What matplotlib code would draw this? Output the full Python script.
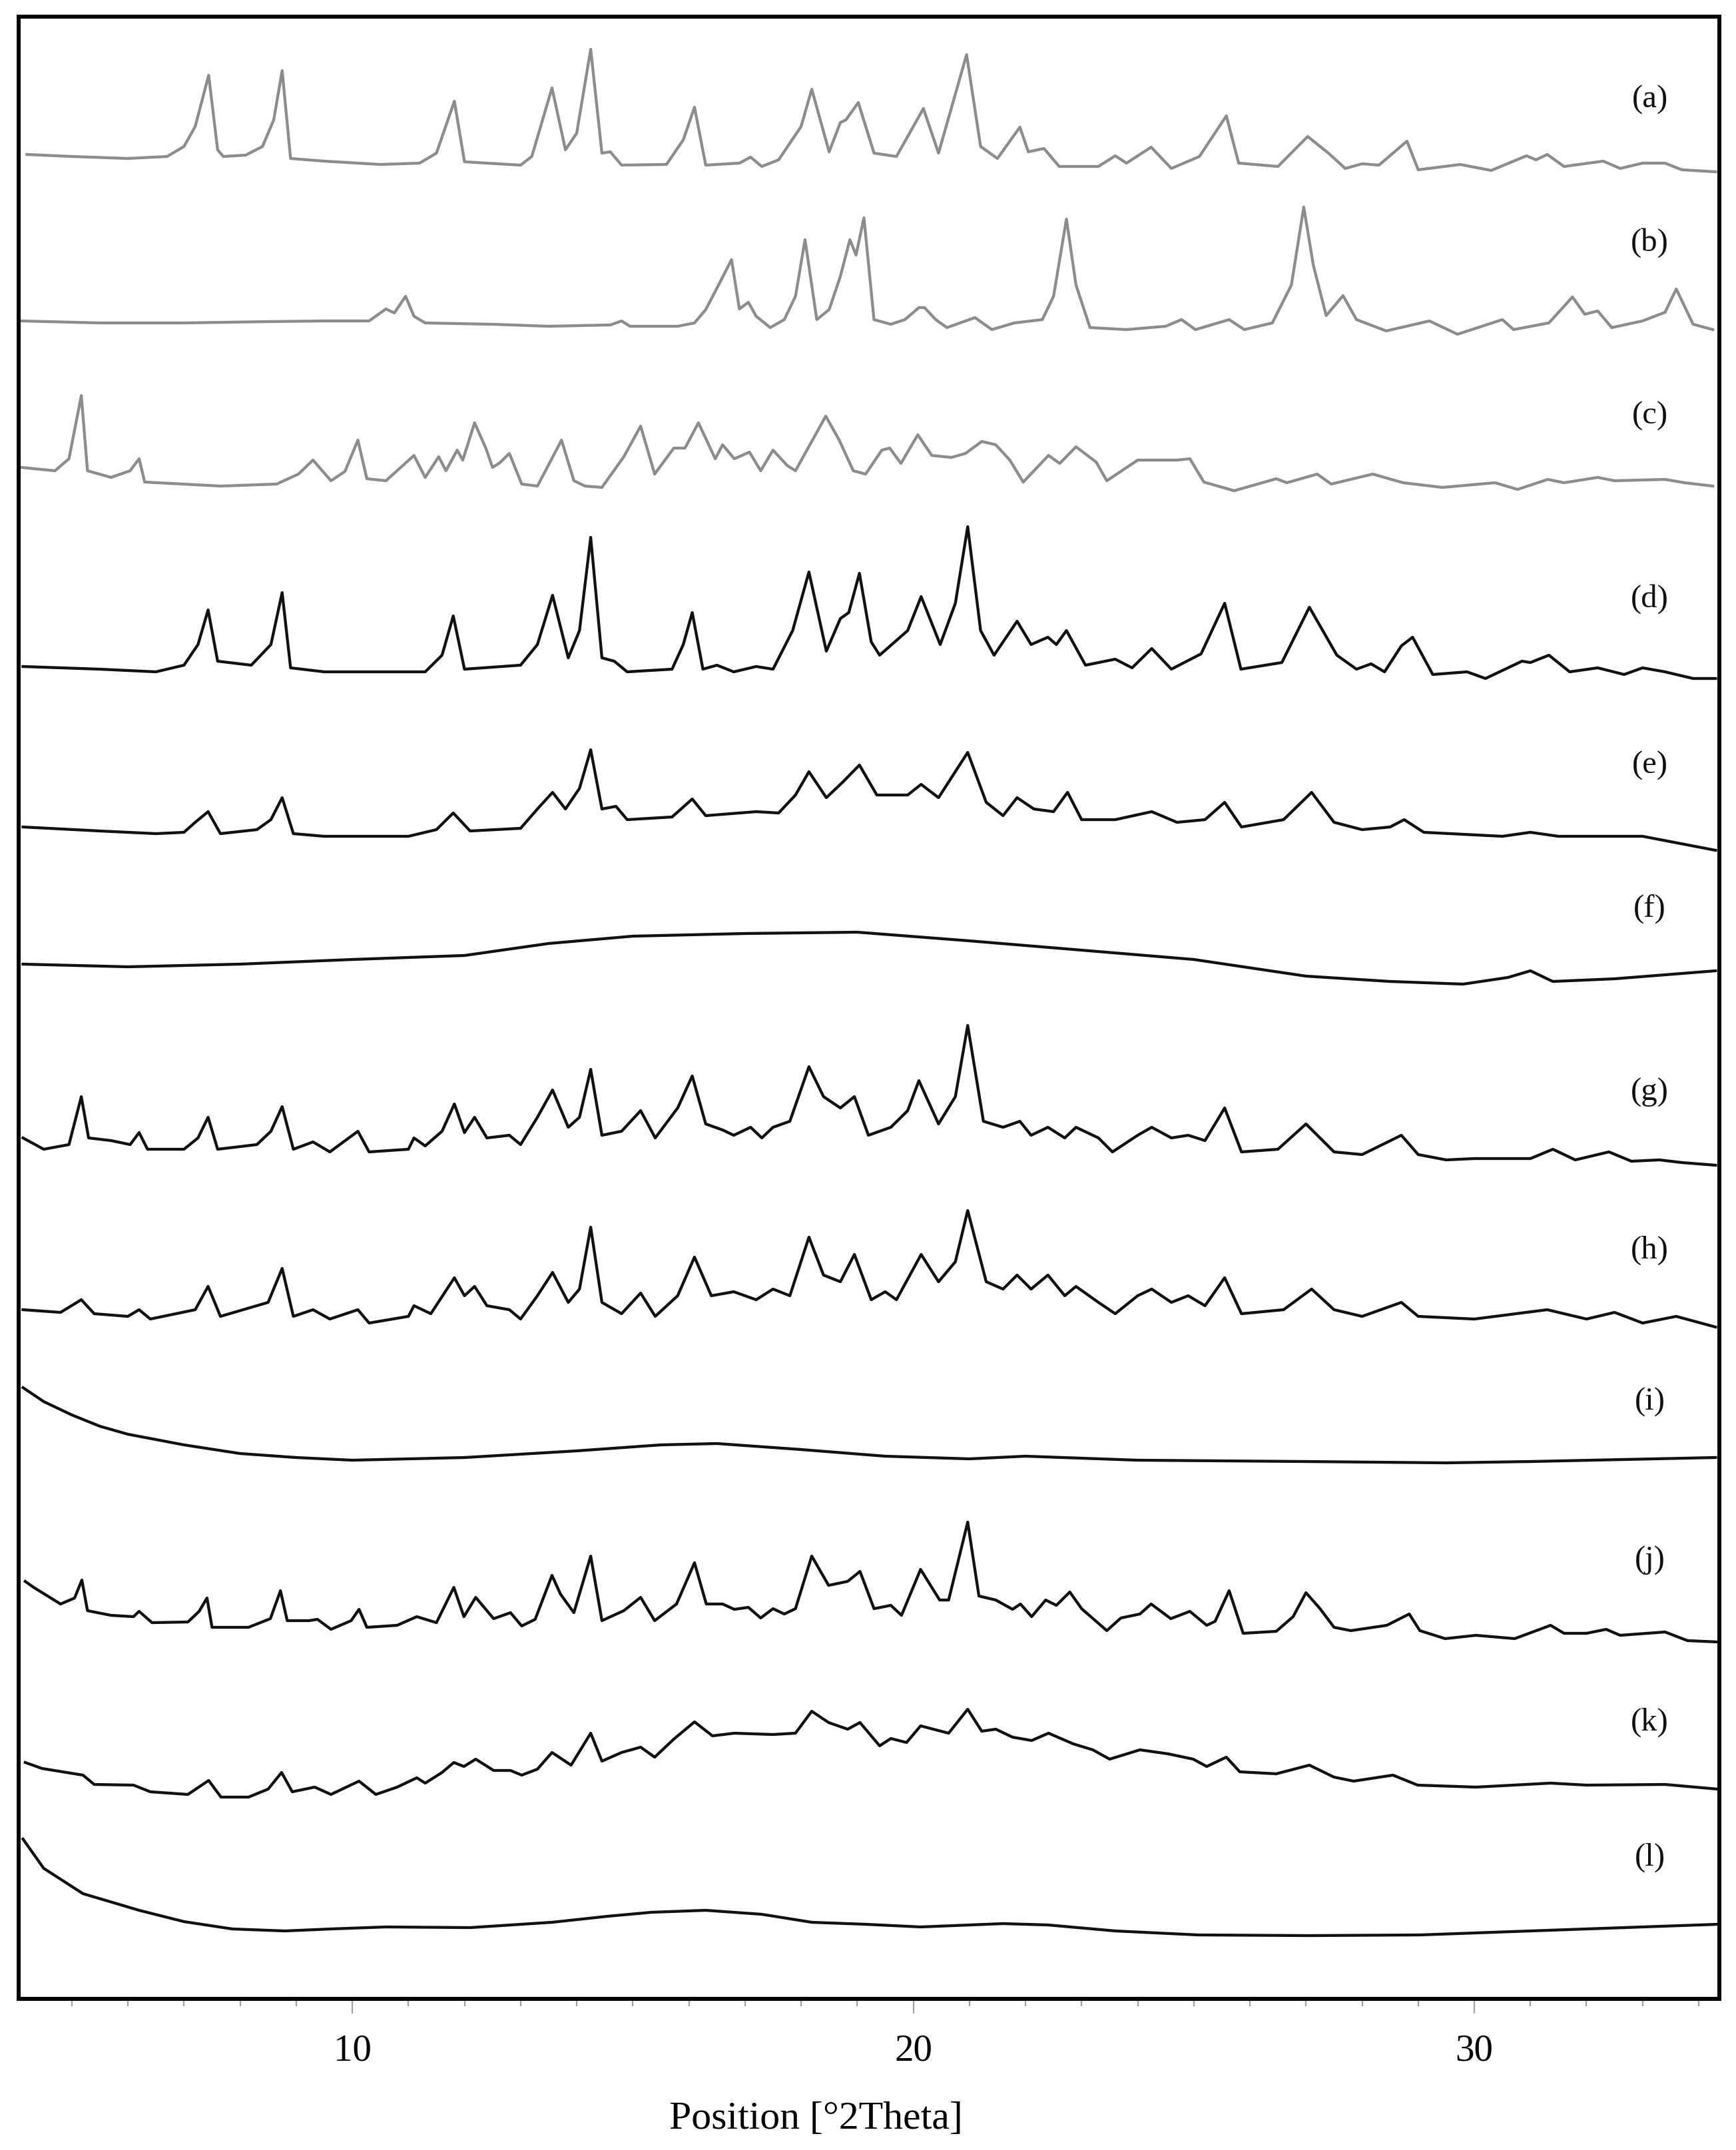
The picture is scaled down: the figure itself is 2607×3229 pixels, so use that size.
import matplotlib
matplotlib.use('Agg')
import matplotlib.pyplot as plt
from matplotlib.ticker import MultipleLocator

plt.rcParams['font.family'] = ['Liberation Serif', 'DejaVu Serif']

# digitised patterns: (2theta, counts above own baseline)
pat_a = [(4.2,18),(5.0,15),(6.0,12),(6.7,15),(7.0,30),(7.2,60),(7.44,137),(7.6,25),(7.7,15),(8.1,17),
         (8.4,30),(8.6,70),(8.75,144),(8.9,12),(9.5,8),(10.5,3),(11.2,5),(11.5,20),(11.82,98),(12.0,7),
         (13.0,2),(13.2,15),(13.56,118),(13.8,25),(14.0,50),(14.25,176),(14.45,20),(14.6,22),(14.8,2),(15.6,3),
         (15.9,40),(16.1,89),(16.3,2),(16.9,5),(17.1,14),(17.3,0),(17.6,10),(18.0,60),(18.19,116),(18.5,22),
         (18.7,66),(18.8,70),(19.02,96),(19.3,20),(19.7,15),(20.18,87),(20.45,20),(20.95,168),(21.2,30),(21.5,12),
         (21.9,59),(22.05,22),(22.33,27),(22.6,0),(23.3,0),(23.6,16),(23.8,5),(24.24,29),(24.6,-3),(25.1,15),
         (25.58,76),(25.8,5),(26.5,0),(27.03,45),(27.4,20),(27.7,-3),(28.0,4),(28.3,2),(28.8,38),(29.0,-5),
         (29.75,3),(30.3,-6),(30.93,16),(31.1,10),(31.3,18),(31.6,0),(32.3,8),(32.6,-3),(33.0,5),(33.4,5),
         (33.7,-5),(34.3,-8)]

pat_b = [(4.1,3),(5.5,0),(7.0,0),(8.5,2),(9.5,3),(10.3,3),(10.6,21),(10.75,15),(10.95,40),(11.1,10),
         (11.3,0),(12.5,-2),(13.5,-5),(14.6,-3),(14.8,3),(14.95,-5),(15.8,-5),(16.1,0),(16.3,20),(16.56,62),
         (16.76,95),(16.9,21),(17.06,31),(17.2,10),(17.45,-7),(17.7,5),(17.9,40),(18.07,125),(18.28,5),(18.5,20),
         (18.7,70),(18.87,125),(18.98,102),(19.12,158),(19.3,5),(19.6,-2),(19.85,5),(20.1,23),(20.2,23),(20.4,5),
         (20.6,-7),(21.1,8),(21.4,-10),(21.8,0),(22.3,5),(22.5,40),(22.73,156),(22.9,57),(23.15,-7),(23.8,-10),
         (24.5,-5),(24.78,5),(25.03,-10),(25.63,5),(25.9,-10),(26.4,0),(26.74,57),(26.96,174),(27.13,87),(27.36,11),
         (27.66,41),(27.9,5),(28.43,-12),(29.2,3),(29.7,-17),(30.5,5),(30.7,-10),(31.33,0),(31.75,39),(31.97,13),
         (32.2,18),(32.45,-7),(33.0,3),(33.4,16),(33.6,51),(33.9,-2),(34.25,-10)]

pat_c = [(4.1,18),(4.7,13),(4.95,31),(5.17,126),(5.28,13),(5.7,3),(6.04,13),(6.2,31),(6.3,-4),(7.66,-10),
         (8.65,-7),(9.04,8),(9.3,29),(9.62,-2),(9.87,12),(10.1,59),(10.26,1),(10.6,-2),(11.1,36),(11.3,3),
         (11.54,34),(11.67,13),(11.87,44),(11.97,29),(12.18,85),(12.38,47),(12.5,18),(12.63,25),(12.8,39),(13.02,-7),
         (13.3,-10),(13.73,59),(13.95,-2),(14.15,-10),(14.45,-12),(14.84,34),(15.14,80),(15.39,8),(15.73,47),(15.93,47),
         (16.17,85),(16.47,31),(16.6,52),(16.81,31),(17.08,41),(17.28,13),(17.5,44),(17.75,21),(17.9,13),(18.44,95),
         (18.68,59),(18.93,13),(19.15,8),(19.44,44),(19.58,47),(19.78,24),(20.08,67),(20.33,36),(20.68,33),(20.93,39),
         (21.22,57),(21.47,52),(21.72,29),(21.96,-4),(22.41,36),(22.61,24),(22.9,49),(23.26,26),(23.45,-2),(24.0,29),
         (24.7,29),(24.93,31),(25.18,-4),(25.72,-17),(26.47,1),(26.66,-5),(27.2,8),(27.45,-7),(28.19,8),(28.73,-5),
         (29.43,-12),(30.37,-5),(30.77,-15),(31.31,0),(31.6,-5),(32.2,3),(32.5,-2),(33.4,0),(33.75,-5),(34.25,-10)]

pat_d = [(4.13,8),(5.5,4),(6.5,0),(7.0,10),(7.25,41),(7.43,93),(7.6,16),(8.2,10),(8.55,41),(8.75,119),
         (8.9,6),(9.5,0),(11.3,0),(11.6,25),(11.8,84),(12.0,4),(13.0,10),(13.3,41),(13.57,115),(13.85,21),
         (14.05,62),(14.25,202),(14.45,21),(14.67,16),(14.9,0),(15.7,4),(15.9,41),(16.06,89),(16.25,4),(16.5,10),
         (16.8,0),(17.2,8),(17.5,4),(17.85,62),(18.14,150),(18.45,31),(18.7,80),(18.85,89),(19.04,148),(19.25,45),
         (19.4,25),(19.9,62),(20.14,113),(20.48,41),(20.75,103),(20.97,218),(21.2,62),(21.44,25),(21.85,76),(22.1,41),
         (22.4,52),(22.55,41),(22.73,62),(23.07,10),(23.6,19),(23.9,6),(24.25,35),(24.6,4),(25.13,27),(25.55,103),
         (25.84,4),(26.57,14),(27.06,97),(27.55,25),(27.9,4),(28.16,12),(28.4,0),(28.7,39),(28.9,52),(29.26,-4),
         (29.87,0),(30.2,-10),(30.85,16),(31.0,14),(31.33,25),(31.7,0),(32.2,6),(32.67,-4),(33.0,6),(33.4,0),
         (33.9,-10),(34.3,-10)]

pat_e = [(4.13,14),(5.5,8),(6.5,4),(7.0,6),(7.2,21),(7.43,37),(7.65,4),(8.3,10),(8.55,25),(8.75,58),
         (8.95,4),(9.5,0),(11.0,0),(11.5,10),(11.8,35),(12.1,8),(13.0,12),(13.3,41),(13.57,66),(13.8,41),
         (14.05,72),(14.25,130),(14.45,41),(14.7,45),(14.9,25),(15.7,29),(16.06,56),(16.3,31),(17.2,37),(17.6,35),
         (17.9,62),(18.14,97),(18.45,58),(18.75,82),(19.04,107),(19.35,62),(19.9,62),(20.14,78),(20.45,58),(20.97,126),
         (21.3,51),(21.6,31),(21.85,58),(22.15,41),(22.5,37),(22.75,66),(23.0,25),(23.6,25),(24.25,37),(24.7,21),
         (25.2,25),(25.55,51),(25.85,14),(26.6,25),(27.1,66),(27.5,21),(28.0,10),(28.5,14),(28.75,25),(29.1,6),
         (30.5,0),(31.0,6),(31.5,0),(33.0,0),(34.3,-21)]

pat_f = [(4.13,14),(6.0,10),(8.0,14),(10.0,21),(12.0,27),(13.5,45),(15.0,56),(17.0,60),(19.0,62),(21.0,49),
         (23.0,35),(25.0,21),(27.0,-4),(28.5,-12),(29.8,-16),(30.6,-6),(31.0,4),(31.4,-12),(32.5,-8),(34.3,4)]

pat_g = [(4.13,31),(4.5,14),(4.95,21),(5.17,93),(5.3,31),(5.7,27),(6.04,21),(6.2,39),(6.35,14),(7.0,14),
         (7.25,31),(7.43,62),(7.6,14),(8.3,21),(8.55,41),(8.75,78),(8.95,14),(9.3,25),(9.6,10),(10.1,41),
         (10.3,10),(11.0,14),(11.1,31),(11.3,19),(11.6,41),(11.82,82),(12.0,39),(12.18,62),(12.4,31),(12.8,35),
         (13.0,21),(13.3,62),(13.57,103),(13.85,47),(14.05,62),(14.25,134),(14.45,35),(14.8,41),(15.14,72),(15.4,31),
         (15.8,76),(16.06,124),(16.3,52),(16.6,43),(16.8,35),(17.1,47),(17.3,31),(17.5,47),(17.8,56),(18.14,138),
         (18.4,93),(18.7,76),(18.95,93),(19.2,35),(19.6,47),(19.9,72),(20.1,117),(20.45,52),(20.75,93),(20.97,200),
         (21.25,56),(21.6,47),(21.9,56),(22.1,35),(22.4,47),(22.7,31),(22.9,47),(23.3,31),(23.55,10),(24.0,35),
         (24.25,47),(24.6,31),(24.9,35),(25.2,27),(25.55,76),(25.85,10),(26.5,14),(27.0,52),(27.5,10),(28.0,6),
         (28.7,35),(29.0,6),(29.5,-2),(30.0,0),(31.0,0),(31.4,14),(31.8,-2),(32.4,10),(32.8,-4),(33.3,-2),
         (33.7,-6),(34.3,-10)]

pat_h = [(4.13,10),(4.8,6),(5.17,25),(5.4,4),(6.0,0),(6.2,10),(6.4,-4),(7.2,10),(7.43,45),(7.65,0),
         (8.5,21),(8.75,72),(8.95,0),(9.3,10),(9.6,-4),(10.1,10),(10.3,-10),(11.0,0),(11.1,16),(11.4,4),
         (11.82,58),(12.0,31),(12.18,45),(12.4,16),(12.8,10),(13.0,-4),(13.3,31),(13.57,66),(13.85,21),(14.05,41),
         (14.25,134),(14.45,21),(14.8,4),(15.14,35),(15.4,0),(15.8,31),(16.1,89),(16.4,31),(16.8,37),(17.2,25),
         (17.5,41),(17.8,31),(18.14,119),(18.4,62),(18.7,52),(18.95,93),(19.25,25),(19.5,37),(19.7,25),(20.14,93),
         (20.45,52),(20.75,82),(20.97,159),(21.3,52),(21.6,41),(21.85,62),(22.1,41),(22.4,62),(22.7,31),(22.9,45),
         (23.3,21),(23.6,4),(24.0,31),(24.25,41),(24.6,21),(24.9,31),(25.2,16),(25.55,58),(25.85,4),(26.6,10),
         (27.1,41),(27.5,10),(28.0,0),(28.7,21),(29.0,0),(30.0,-4),(31.3,10),(32.0,-4),(32.5,6),(33.0,-10),
         (33.6,0),(34.3,-16)]

pat_i = [(4.13,105),(4.5,84),(5.0,64),(5.5,47),(6.0,35),(7.0,19),(8.0,6),(9.0,0),(10.0,-4),(12.0,0),
         (14.0,10),(15.5,19),(16.5,21),(18.0,12),(19.5,2),(21.0,-2),(22.0,2),(24.0,-4),(27.0,-6),(29.5,-8),
         (31.0,-6),(34.3,0)]

pat_j = [(4.17,65),(4.32,56),(4.8,31),(5.05,40),(5.18,67),(5.28,21),(5.7,14),(6.1,12),(6.2,20),(6.43,3),
         (7.07,4),(7.27,20),(7.41,40),(7.5,-4),(8.15,-4),(8.54,9),(8.72,51),(8.84,6),(9.23,6),(9.38,8),
         (9.62,-7),(9.98,6),(10.12,23),(10.26,-4),(10.8,-1),(11.15,12),(11.5,3),(11.81,56),(11.99,12),(12.2,41),
         (12.52,9),(12.82,18),(13.02,-2),(13.26,8),(13.56,74),(13.71,46),(13.95,18),(14.25,103),(14.45,6),(14.84,21),
         (15.14,41),(15.39,6),(15.78,31),(16.1,93),(16.31,31),(16.6,31),(16.81,23),(17.06,26),(17.28,10),(17.5,24),
         (17.7,16),(17.9,24),(18.19,103),(18.49,59),(18.83,65),(19.05,80),(19.3,24),(19.6,29),(19.79,14),(20.13,83),
         (20.47,37),(20.63,37),(20.97,154),(21.17,43),(21.47,37),(21.77,23),(21.91,31),(22.11,12),(22.36,37),(22.55,29),
         (22.79,49),(23.0,24),(23.45,-9),(23.7,10),(24.04,16),(24.24,31),(24.59,9),(24.93,20),(25.23,-1),(25.38,5),
         (25.63,51),(25.88,-13),(26.47,-10),(26.77,12),(27.0,48),(27.25,24),(27.5,-4),(27.8,-9),(28.44,-1),(28.84,16),
         (29.03,-9),(29.48,-21),(30.03,-16),(30.72,-21),(31.36,-1),(31.6,-13),(32.0,-13),(32.35,-7),(32.6,-16),(33.4,-11),
         (33.8,-24),(34.34,-26)]

pat_k = [(4.17,33),(4.47,24),(5.2,14),(5.4,0),(6.1,-1),(6.4,-11),(7.07,-15),(7.44,6),(7.66,-19),(8.15,-19),
         (8.5,-7),(8.74,18),(8.93,-11),(9.33,-4),(9.62,-15),(10.12,5),(10.42,-15),(10.8,-4),(11.15,10),(11.3,2),
         (11.6,18),(11.81,33),(11.99,27),(12.2,38),(12.52,21),(12.82,21),(13.02,14),(13.3,23),(13.56,48),(13.9,29),
         (14.25,77),(14.45,35),(14.8,48),(15.14,56),(15.39,41),(15.73,68),(16.1,94),(16.42,73),(16.81,77),(17.5,75),
         (17.9,77),(18.19,110),(18.49,93),(18.83,83),(19.05,93),(19.4,58),(19.6,69),(19.88,63),(20.13,88),(20.63,77),
         (20.97,113),(21.22,80),(21.47,83),(21.77,71),(22.11,66),(22.41,77),(22.85,61),(23.2,52),(23.5,38),(24.04,52),
         (24.54,46),(24.99,38),(25.23,27),(25.58,41),(25.82,19),(26.47,16),(27.06,29),(27.5,11),(27.85,5),(28.55,14),
         (28.99,-1),(30.03,-4),(31.36,2),(32.0,-1),(33.4,0),(34.34,-7)]

pat_l = [(4.13,133),(4.5,89),(5.2,51),(6.2,26),(7.0,9),(7.86,-2),(8.8,-5),(9.62,-2),(10.6,1),(12.1,0),
         (13.56,8),(14.55,17),(15.33,23),(16.3,26),(17.3,20),(18.19,8),(19.15,5),(20.13,1),(21.6,6),(22.4,4),
         (23.6,-5),(25.08,-11),(27.06,-12),(29.03,-11),(31.0,-5),(33.0,1),(34.34,5)]

patterns = [pat_a, pat_b, pat_c, pat_d, pat_e, pat_f, pat_g, pat_h, pat_i, pat_j, pat_k, pat_l]
names = ['(a)', '(b)', '(c)', '(d)', '(e)', '(f)', '(g)', '(h)', '(i)', '(j)', '(k)', '(l)']

# vertical stacking (same units as counts)
offsets = [2752, 2517, 2282, 1993, 1746, 1540, 1262, 1025, 813, 562, 322, 107]
label_y = [2852, 2637, 2377, 2102, 1852, 1637, 1361, 1124, 896, 658, 415, 212]
colors = ['#8c8c8c'] * 3 + ['#111111'] * 9

fig = plt.figure(figsize=(26.07, 32.29), dpi=100)
ax = fig.add_axes([28 / 2607, 1 - 3002 / 3229, 2554 / 2607, 2977 / 3229])

for pat, off, col, name, ly in zip(patterns, offsets, colors, names, label_y):
    x = [p[0] for p in pat]
    y = [p[1] + off for p in pat]
    ax.plot(x, y, color=col, lw=3.1, solid_joinstyle='round')
    ax.text(33.13, ly, name, fontsize=35, ha='center', va='center', color='#111111')

ax.set_xlim(4.053, 34.368)
ax.set_ylim(0, 2977)
ax.set_yticks([])
ax.xaxis.set_major_locator(MultipleLocator(10))
ax.xaxis.set_minor_locator(MultipleLocator(1))
ax.tick_params(axis='x', which='major', length=16, width=1.6, color='#a0a0a0',
               labelsize=41, pad=22)
ax.tick_params(axis='x', which='minor', length=8, width=1.6, color='#a0a0a0')
for s in ax.spines.values():
    s.set_linewidth(4.3)
    s.set_color('black')

fig.text(1225 / 2607, 1 - 3183 / 3229, 'Position [°2Theta]', fontsize=43,
         ha='center', va='center')

fig.savefig('out.png', dpi=100)
